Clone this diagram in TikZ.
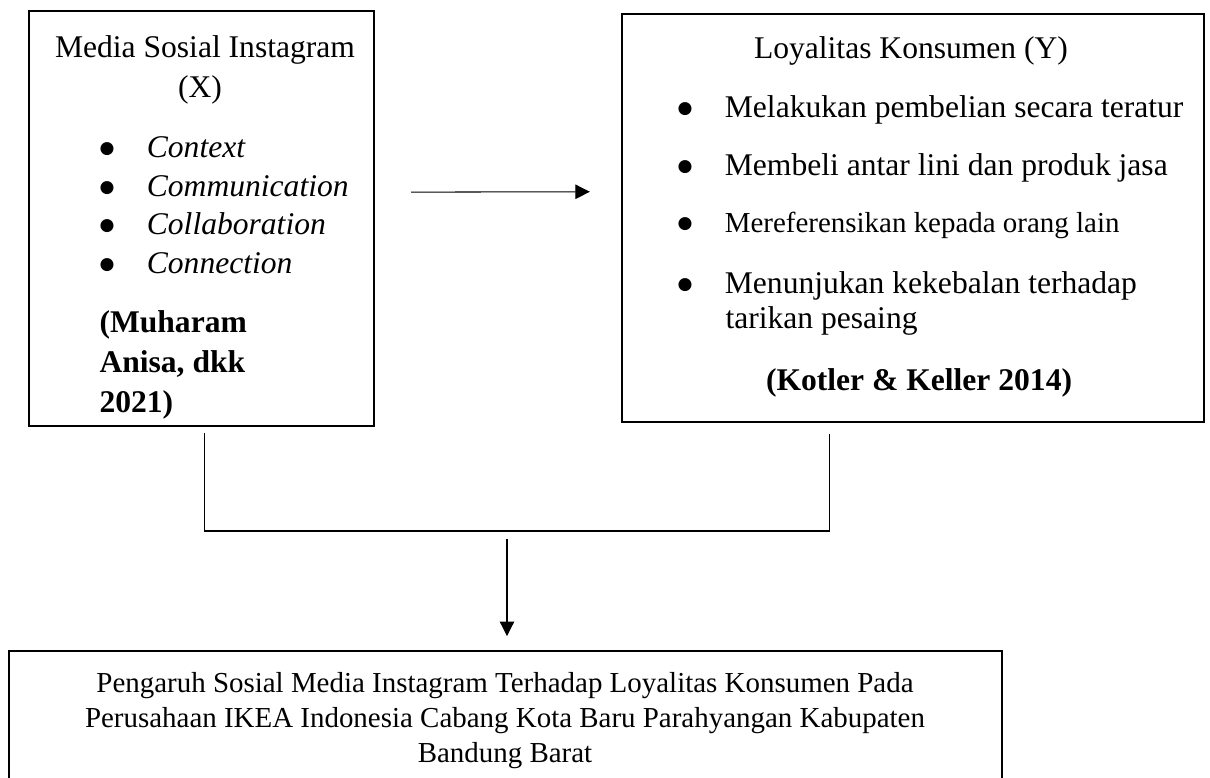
\documentclass[tikz,border=0pt]{standalone}
\usepackage{fontspec}
\setmainfont{Liberation Serif}
\newfontfamily\symfont{DejaVu Sans}
\usetikzlibrary{positioning,arrows.meta}
\newcommand{\ibullet}{\makebox[18pt][l]{\raisebox{1.2pt}{\symfont\fontsize{6.5}{7}\selectfont ●}}}

\begin{document}
\begin{tikzpicture}[x=0.38pt, y=-0.38pt,
box/.style={rectangle,draw,line width=0.8pt,inner sep=0pt},
head/.style={inner sep=0pt,anchor=base,font=\fontsize{12}{14}\selectfont},
entry/.style={inner sep=0pt,anchor=base west,text height=8pt,text depth=2pt,font=\fontsize{12}{14}\selectfont},
paths/.style={line width=0.4pt, -{Triangle[length=5.5pt,width=5.5pt]}},
joint/.style={line width=0.4pt}
]
\useasboundingbox (0,0) rectangle (1210,778);

%create boxes
\node[box, minimum width=131.1pt, minimum height=157.7pt] (mx) at (201.5,218.5) {};
\node[box, minimum width=221.2pt, minimum height=155pt] (my) at (913,218) {};
\node[box, minimum width=377.3pt, minimum height=64.2pt] (mz) at (505.5,735.5) {};

%text of media sosial (X)
\node[head] (tx1) at (205,57) {Media Sosial Instagram};
\node[head] (tx2) at (200,97) {(X)};
\node[entry] (x1) at (99,157) {\ibullet\textit{Context}};
\node[entry] (x2) at (99,196) {\ibullet\textit{Communication}};
\node[entry] (x3) at (99,234) {\ibullet\textit{Collaboration}};
\node[entry] (x4) at (99,273) {\ibullet\textit{Connection}};
\node[entry, font=\fontsize{12}{14}\selectfont\bfseries] (rx1) at (99,332) {(Muharam};
\node[entry, font=\fontsize{12}{14}\selectfont\bfseries] (rx2) at (99,372) {Anisa, dkk};
\node[entry, font=\fontsize{12}{14}\selectfont\bfseries] (rx3) at (99,412) {2021)};

%text of loyalitas (Y)
\node[head] (ty) at (911,58) {Loyalitas Konsumen (Y)};
\node[entry] (y1) at (677,117) {\ibullet Melakukan pembelian secara teratur};
\node[entry] (y2) at (677,175) {\ibullet Membeli antar lini dan produk jasa};
\node[entry, font=\fontsize{11}{13}\selectfont] (y3) at (677,232) {\ibullet Mereferensikan kepada orang lain};
\node[entry] (y4) at (677,293) {\ibullet Menunjukan kekebalan terhadap};
\node[entry] (y4b) at (725,328) {tarikan pesaing};
\node[head, font=\fontsize{12}{14}\selectfont\bfseries] (ry) at (919,390) {(Kotler \& Keller 2014)};

%text of pengaruh
\node[head, font=\fontsize{11}{13}\selectfont] (z1) at (505,692) {Pengaruh Sosial Media Instagram Terhadap Loyalitas Konsumen Pada};
\node[head, font=\fontsize{11}{13}\selectfont] (z2) at (505,727) {Perusahaan IKEA Indonesia Cabang Kota Baru Parahyangan Kabupaten};
\node[head, font=\fontsize{11}{13}\selectfont] (z3) at (505,762) {Bandung Barat};

%draw paths
\coordinate (bar) at (507,531);
\draw[paths, shorten <=13.7pt, shorten >=11.8pt] ([yshift=10pt]mx.east) -- ([yshift=10pt]my.west);
\draw[joint] ([xshift=1pt,yshift=-2.3pt]mx.south) |- (bar) -| ([xshift=-31.9pt,yshift=-4.2pt]my.south);
\draw[paths, shorten <=3pt, shorten >=5.3pt] (bar) -- (bar |- mz.north);

\end{tikzpicture}
\end{document}
